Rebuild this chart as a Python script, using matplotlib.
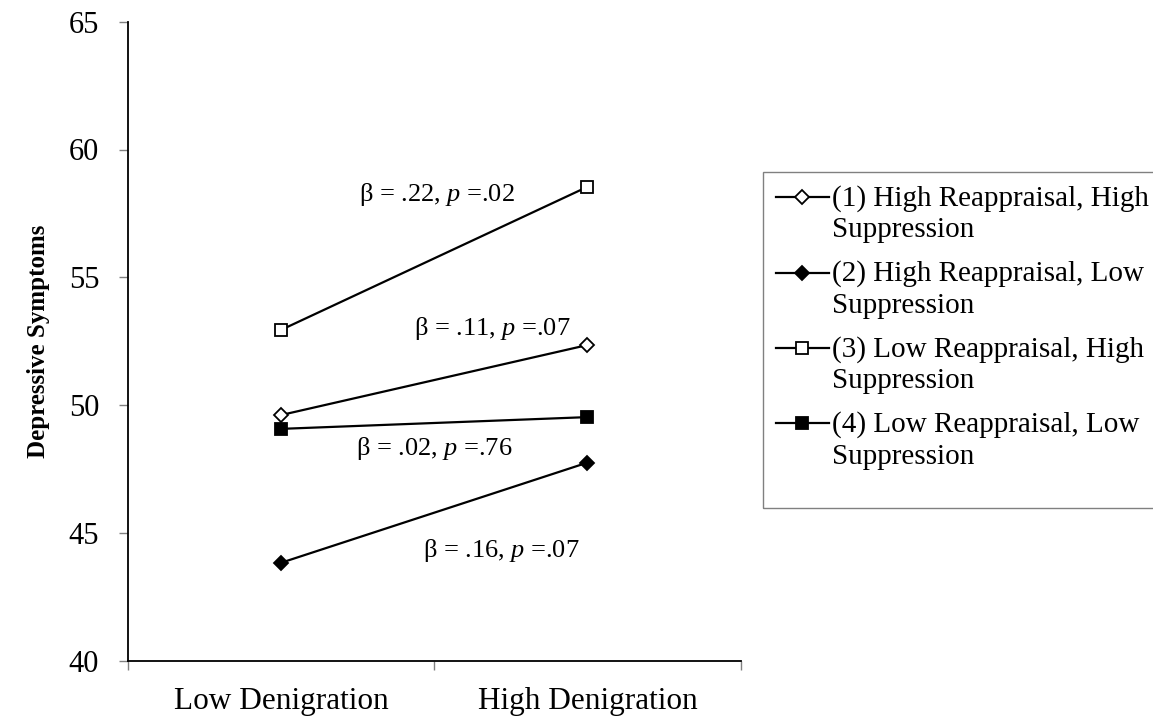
import numpy as np
import matplotlib
matplotlib.use("Agg")
import matplotlib.pyplot as plt
from matplotlib.legend_handler import HandlerLine2D
from matplotlib.patches import Rectangle

plt.rcParams['font.family'] = ['Liberation Serif', 'DejaVu Serif']
plt.rcParams['mathtext.fontset'] = 'custom'
plt.rcParams['mathtext.rm'] = 'Liberation Serif'
plt.rcParams['mathtext.it'] = 'Liberation Serif:italic'

# data
categories = ['Low Denigration', 'High Denigration']
series_labels = ['(1) High Reappraisal, High\nSuppression',
                 '(2) High Reappraisal, Low\nSuppression',
                 '(3) Low Reappraisal, High\nSuppression',
                 '(4) Low Reappraisal, Low\nSuppression']
hr_hs = [49.61, 52.35]
hr_ls = [43.83, 47.75]
lr_hs = [52.94, 58.54]
lr_ls = [49.07, 49.53]
y_ticks = [40, 45, 50, 55, 60, 65]

notes = [r'β = .22, $p$ =.02', r'β = .11, $p$ =.07',
         r'β = .02, $p$ =.76', r'β = .16, $p$ =.07']
note_xy = [(0.51, 58.25), (0.69, 53.0), (0.50, 48.3), (0.72, 44.3)]

LEG_LS = 1.28


class FirstLineHandler(HandlerLine2D):
    # excel puts the key next to the first line of a wrapped label
    def create_artists(self, legend, orig_handle, xdescent, ydescent,
                       width, height, fontsize, trans):
        shift = fontsize * LEG_LS * 0.9
        return super().create_artists(legend, orig_handle, xdescent,
                                      ydescent - shift, width, height,
                                      fontsize, trans)


fig = plt.figure(figsize=(11.53, 7.17), dpi=100)
ax = fig.add_axes([127.7 / 1153, 1 - 660.7 / 717,
                   613 / 1153, 639 / 717])

x = np.arange(len(categories))
styles = [('D', 'white', 7), ('D', 'black', 7), ('s', 'white', 9), ('s', 'black', 9)]
lines = []
for vals, lab, (m, fc, ms) in zip([hr_hs, hr_ls, lr_hs, lr_ls], series_labels, styles):
    ln, = ax.plot(x, vals, color='black', lw=1.6, marker=m, ms=ms,
                  mfc=fc, mec='black', mew=1.3, label=lab)
    lines.append(ln)

for txt, (tx, ty) in zip(notes, note_xy):
    ax.text(tx, ty, txt, fontsize=19, ha='center', va='center')

ax.set_xlim(-0.5, 1.5)
ax.set_ylim(40, 65)
ax.set_yticks(y_ticks)
ax.set_xticks([-0.5, 0.5, 1.5])
ax.set_xticklabels([])
ax.set_xticks(x, minor=True)
ax.set_xticklabels(categories, minor=True)
ax.tick_params(axis='x', which='minor', length=0, pad=19, labelsize=22.5)
ax.tick_params(axis='x', which='major', length=6.5, width=1, color='#808080')
ax.tick_params(axis='y', length=6.5, width=1, color='#808080', pad=14, labelsize=22)

for side in ['top', 'right']:
    ax.spines[side].set_visible(False)
for side in ['left', 'bottom']:
    ax.spines[side].set_linewidth(1.3)

ax.set_ylabel('Depressive Symptoms', fontsize=18, fontweight='bold')
ax.yaxis.set_label_coords((50 - 127.7) / 613, 0.5)

# legend box is taller than its entries, so draw the frame separately
fig.patches.append(Rectangle((763 / 1153, 1 - 508 / 717), 420 / 1153, 336 / 717,
                             transform=fig.transFigure, fill=False,
                             edgecolor='#808080', lw=1.0))
leg = fig.legend(handles=lines, loc='upper left',
                 bbox_to_anchor=(763 / 1153, 1 - 171.7 / 717),
                 bbox_transform=fig.transFigure, borderaxespad=0,
                 fontsize=21, frameon=False,
                 handlelength=1.8, handletextpad=0.1, borderpad=0.45,
                 labelspacing=0.58,
                 handler_map={matplotlib.lines.Line2D: FirstLineHandler()})
for t in leg.get_texts():
    t.set_linespacing(LEG_LS)

fig.savefig('out.png', dpi=100)
